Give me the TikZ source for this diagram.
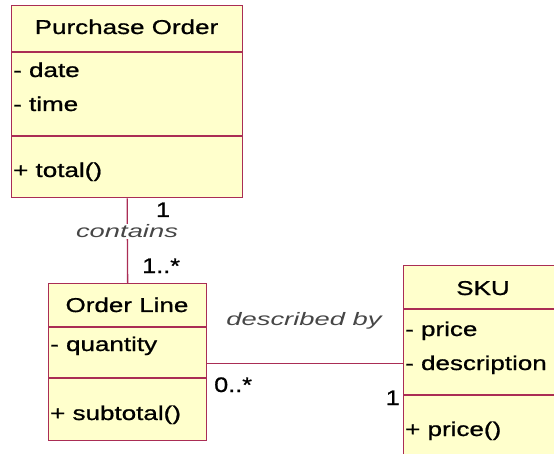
\documentclass[tikz,border=0pt]{standalone}
\usepackage{fontspec}
\setmainfont{Liberation Sans}
\newfontfamily\umlfont[FakeStretch=1.30,FakeBold=0.9]{Liberation Sans}
\newfontfamily\labfont[FakeStretch=1.52]{Liberation Sans}
\newfontfamily\multfont[FakeStretch=1.2,FakeBold=0.9]{Liberation Sans}
\definecolor{umlline}{RGB}{170,45,85}
\definecolor{umlfill}{RGB}{255,255,204}
\definecolor{labgray}{RGB}{70,70,70}
\begin{document}
\begin{tikzpicture}[x=1pt,y=-1pt,
  classbox/.style={draw=umlline, fill=umlfill, line width=1.3pt, inner sep=0pt, anchor=north west},
  sepline/.style={draw=umlline, line width=1.3pt},
  assoc/.style={draw=umlline, line width=1.3pt},
  ctitle/.style={font=\umlfont\fontsize{20}{24}\selectfont, anchor=base, inner sep=0pt},
  member/.style={font=\umlfont\fontsize{20}{24}\selectfont, anchor=base west, inner sep=0pt},
  rolename/.style={font=\labfont\itshape\fontsize{18}{22}\selectfont, text=labgray, anchor=base, inner xsep=2pt, inner ysep=1pt},
  mult/.style={font=\multfont\fontsize{21}{25}\selectfont, inner sep=0pt}
]
\useasboundingbox (0,0) rectangle (554,454);
\clip (0,0) rectangle (554,454);
\fill[white] (0,0) rectangle (554,454);

% class boxes
\node[classbox, minimum width=231pt, minimum height=192pt] (po) at (11,5) {};
\node[classbox, minimum width=158pt, minimum height=157pt] (ol) at (48,283) {};
\node[classbox, minimum width=170pt, minimum height=220pt] (sku) at (403,265) {};

% compartments
\draw[sepline] (11,52) -- (242,52);
\draw[sepline] (11,136) -- (242,136);
\draw[sepline] (48,327) -- (206,327);
\draw[sepline] (48,378) -- (206,378);
\draw[sepline] (403,309) -- (573,309);
\draw[sepline] (403,395) -- (573,395);

% associations
\draw[assoc] (po.south) -- (ol.north);
\draw[assoc] ([yshift=-1.5pt]ol.east) -- ([yshift=-1.5pt]ol.east -| sku.west);

% association labels
\node[rolename, fill=white] (contains) at (127,238) {contains};
\node[rolename] (descr) at (304,325) {described by};
\node[mult, anchor=base, fill=white, inner xsep=2pt, inner ysep=1pt] (m1) at (163,217) {1};
\node[mult, anchor=base west] (m2) at (142,273) {1..*};
\node[mult, anchor=base west] (m3) at (214,392) {0..*};
\node[mult, anchor=base east] (m4) at (400,405) {1};

% Purchase Order
\node[ctitle] (po-name) at (126.5,34) {Purchase Order};
\node[member] (po-a1) at (13,77) {- date};
\node[member] (po-a2) at (13,111) {- time};
\node[member] (po-m1) at (13,177) {+ total()};

% Order Line
\node[ctitle] (ol-name) at (127,312) {Order Line};
\node[member] (ol-a1) at (50,351) {- quantity};
\node[member] (ol-m1) at (50,420) {+ subtotal()};

% SKU
\node[ctitle] (sku-name) at (483,295) {SKU};
\node[member] (sku-a1) at (405,336) {- price};
\node[member] (sku-a2) at (405,370) {- description};
\node[member] (sku-m1) at (405,436) {+ price()};
\end{tikzpicture}
\end{document}
